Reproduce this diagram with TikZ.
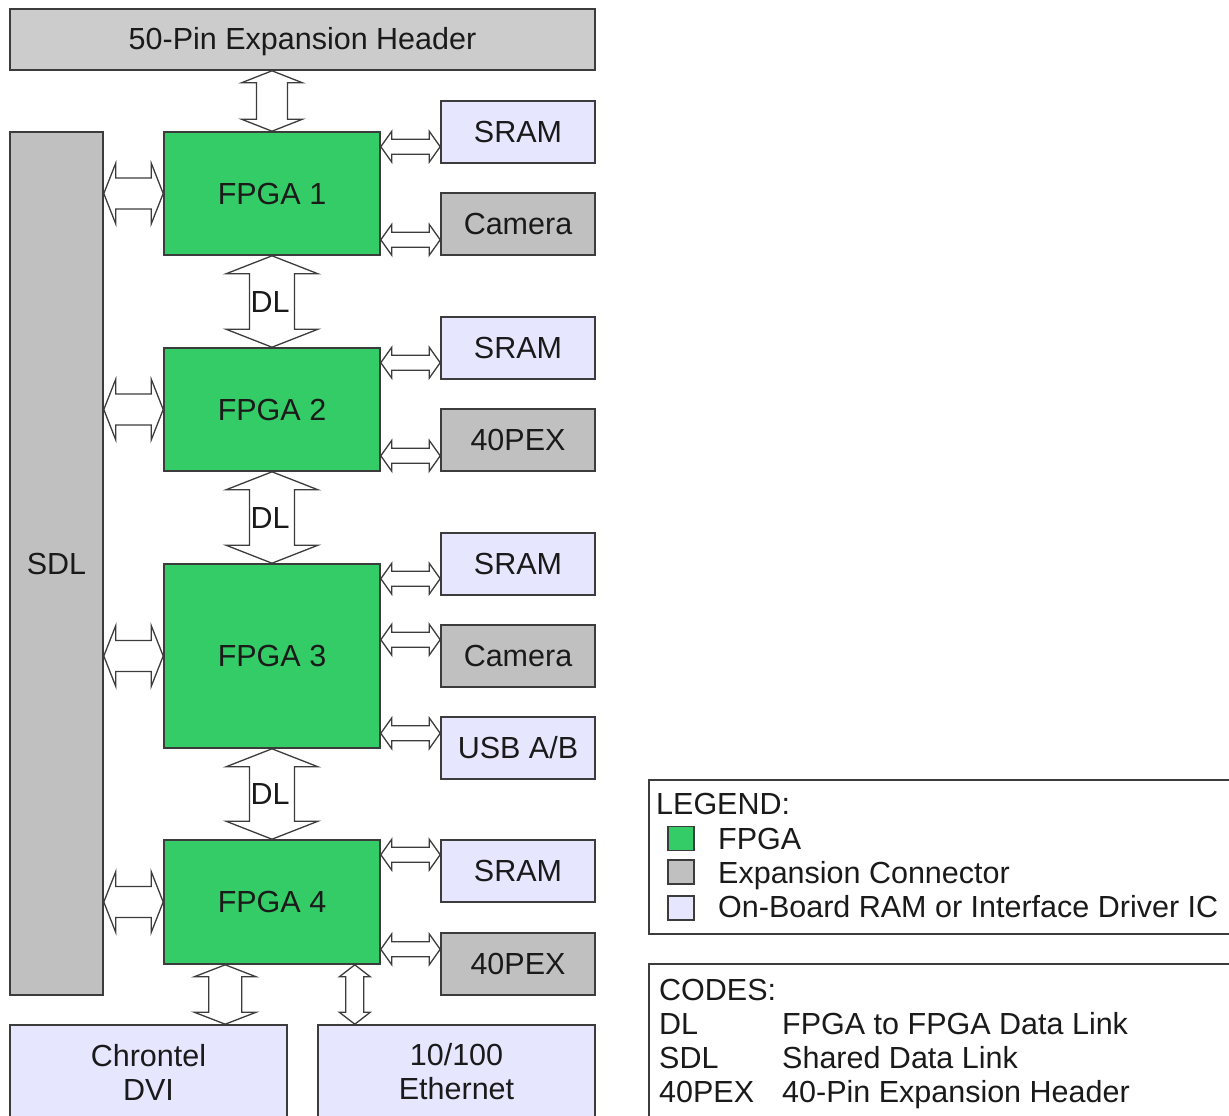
\documentclass[tikz,border=0pt]{standalone}
\usepackage{fontspec}
\setmainfont{Liberation Sans}
\usetikzlibrary{calc}

\definecolor{fpgagreen}{RGB}{51,204,102}
\definecolor{hdrgray}{RGB}{204,204,204}
\definecolor{conngray}{RGB}{192,192,192}
\definecolor{iclav}{RGB}{230,230,255}
\definecolor{edge}{RGB}{60,60,60}
\definecolor{ink}{RGB}{26,26,26}

\newcommand{\diagfont}{\fontsize{30.5}{34}\selectfont}

% double headed block arrows: #1 start, #2 end, #3 half shaft, #4 half head, #5 head length
\newcommand{\blockV}[5]{%
  \draw[blockarrow] let \p1=#1, \p2=#2 in
    (\x1,\y1) -- ++(#4pt,-#5pt) -- ++(#3pt-#4pt,0pt) -- (\x1+#3pt,\y2+#5pt)
    -- ++(#4pt-#3pt,0pt) -- (\x1,\y2) -- ++(-#4pt,#5pt) -- ++(#4pt-#3pt,0pt)
    -- (\x1-#3pt,\y1-#5pt) -- ++(#3pt-#4pt,0pt) -- cycle;}
\newcommand{\blockH}[5]{%
  \draw[blockarrow] let \p1=#1, \p2=#2 in
    (\x1,\y1) -- ++(#5pt,#4pt) -- ++(0pt,#3pt-#4pt) -- (\x2-#5pt,\y1+#3pt)
    -- ++(0pt,#4pt-#3pt) -- (\x2,\y1) -- ++(-#5pt,-#4pt) -- ++(0pt,#4pt-#3pt)
    -- (\x1+#5pt,\y1-#3pt) -- ++(0pt,#3pt-#4pt) -- cycle;}

\begin{document}
\begin{tikzpicture}[x=1pt,y=-1pt,
  box/.style={draw=edge, line width=1.6pt, inner sep=0pt, text=ink, font=\diagfont},
  oneline/.style={box, text height=21pt, text depth=0pt},
  fpga/.style={oneline, fill=fpgagreen, minimum width=216pt},
  part/.style={oneline, minimum width=154pt, minimum height=62pt},
  chip/.style={box, fill=iclav, align=center, minimum width=277pt, minimum height=94pt},
  frame/.style={draw=edge, line width=1.6pt, anchor=north west, inner sep=0pt, minimum width=600pt},
  key/.style={draw=edge, line width=1.2pt, inner sep=0pt, minimum width=26pt, minimum height=24pt},
  txt/.style={anchor=base west, inner sep=0pt, text=ink, font=\diagfont},
  lbl/.style={inner sep=0pt, text=ink, font=\diagfont, text height=21pt, text depth=0pt},
  blockarrow/.style={draw=edge, fill=white, line width=1.3pt, line join=miter},
]
\useasboundingbox (0,0) rectangle (1229,1116);
\clip (0,0) rectangle (1229,1116);

% header, shared link and the four FPGAs
\node[oneline, fill=hdrgray, minimum width=585pt, minimum height=61pt] (hdr) at (302.5,39.5) {50-Pin Expansion Header};
\node[oneline, fill=conngray, minimum width=93pt, minimum height=863pt] (sdl) at (56.5,563.5) {SDL};
\node[fpga, minimum height=123pt] (f1) at (272,193.5) {FPGA 1};
\node[fpga, minimum height=123pt] (f2) at (272,409.5) {FPGA 2};
\node[fpga, minimum height=184pt] (f3) at (272,656) {FPGA 3};
\node[fpga, minimum height=124pt] (f4) at (272,902) {FPGA 4};

% parts on the right
\node[part, fill=iclav] (sram1) at (518,132) {SRAM};
\node[part, fill=conngray] (cam1) at (518,224) {Camera};
\node[part, fill=iclav] (sram2) at (518,348) {SRAM};
\node[part, fill=conngray] (pex2) at (518,440) {40PEX};
\node[part, fill=iclav] (sram3) at (518,564) {SRAM};
\node[part, fill=conngray] (cam3) at (518,656) {Camera};
\node[part, fill=iclav] (usb3) at (518,748) {USB A/B};
\node[part, fill=iclav] (sram4) at (518,871) {SRAM};
\node[part, fill=conngray] (pex4) at (518,964) {40PEX};

% interface chips below
\node[chip] (dvi) at (148.5,1072) {Chrontel\\DVI};
\node[chip] (eth) at (456.5,1072) {10/100\\Ethernet};

% links
\blockV{(f1.north |- hdr.south)}{(f1.north)}{15.5}{30.5}{12}
\blockV{(f1.south)}{(f2.north)}{22.5}{46}{18}
\blockV{(f2.south)}{(f3.north)}{22.5}{46}{18}
\blockV{(f3.south)}{(f4.north)}{22.5}{46}{18}
\foreach \f in {f1,f2,f3,f4}
  \blockH{(sdl.east |- \f.west)}{(\f.west)}{15.5}{30.5}{12};
\blockH{($(f1.north east)+(0,15.5)$)}{(sram1.west)}{7.5}{15.5}{11}
\blockH{($(f1.south east)+(0,-16)$)}{(cam1.west)}{7.5}{15.5}{11}
\blockH{($(f2.north east)+(0,15.5)$)}{(sram2.west)}{7.5}{15.5}{11}
\blockH{($(f2.south east)+(0,-16)$)}{(pex2.west)}{7.5}{15.5}{11}
\blockH{($(f3.north east)+(0,15.5)$)}{(sram3.west)}{7.5}{15.5}{11}
\blockH{($(f3.east |- cam3.north)+(0,15.5)$)}{(cam3.west)}{7.5}{15.5}{11}
\blockH{($(f3.south east)+(0,-15.5)$)}{(usb3.west)}{7.5}{15.5}{11}
\blockH{($(f4.north east)+(0,15.5)$)}{(sram4.west)}{7.5}{15.5}{11}
\blockH{($(f4.south east)+(0,-15.5)$)}{(pex4.west)}{7.5}{15.5}{11}
\blockV{($(f4.south west)+(62,0)$)}{(dvi.north)}{16.5}{31}{12}
\blockV{($(f4.south east)+(-26,0)$)}{(eth.north)}{9}{15.5}{12}

\node[lbl] (dl12) at ($(f1.south)!.5!(f2.north)+(-2,0)$) {DL};
\node[lbl] (dl23) at ($(f2.south)!.5!(f3.north)+(-2,0)$) {DL};
\node[lbl] (dl34) at ($(f3.south)!.5!(f4.north)+(-2,0)$) {DL};

% legend
\node[frame, minimum height=154pt] (legend) at (648,779) {};
\node[txt] (legtitle) at (656,814) {LEGEND:};
\node[key, fill=fpgagreen] (kfpga) at (681,838.5) {};
\node[key, fill=conngray] (kconn) at (681,872) {};
\node[key, fill=iclav] (kic) at (681,908) {};
\node[txt] (lfpga) at (718,849) {FPGA};
\node[txt] (lconn) at (718,883) {Expansion Connector};
\node[txt] (lic) at (718,917) {On-Board RAM or Interface Driver IC};

% codes
\node[frame, minimum height=170pt] (codes) at (648,963) {};
\node[txt] (codetitle) at (659,1000) {CODES:};
\node[txt] (cdl) at (659,1034) {DL};
\node[txt] (csdl) at (659,1068) {SDL};
\node[txt] (cpex) at (659,1102) {40PEX};
\node[txt] (ddl) at (782,1034) {FPGA to FPGA Data Link};
\node[txt] (dsdl) at (782,1068) {Shared Data Link};
\node[txt] (dpex) at (782,1102) {40-Pin Expansion Header};
\end{tikzpicture}
\end{document}
